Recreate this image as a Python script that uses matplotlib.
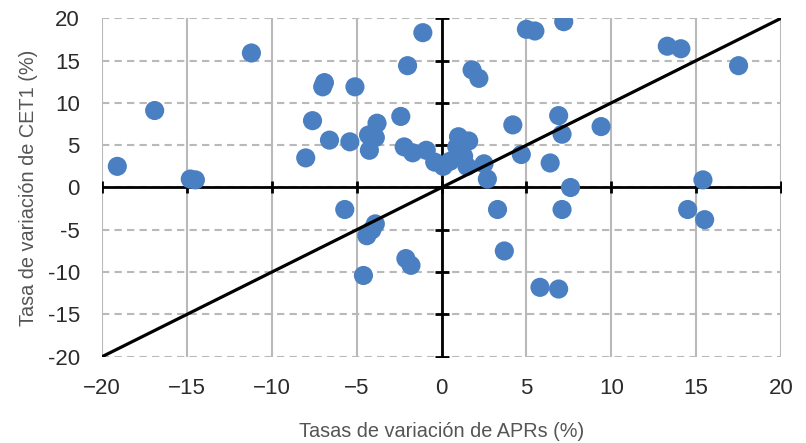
import matplotlib.pyplot as plt
import numpy as np

plt.rcParams['font.family'] = ['Liberation Sans', 'DejaVu Sans']

# tasas de variacion de APRs (%) y de CET1 (%)
apr = [-19.1, -16.9, -14.8, -14.5, -11.2, -8.0, -7.6, -7.0, -6.9, -6.6,
       -5.4, -5.1, -4.3, -3.8, -4.25, -3.9, -2.4, -2.2, -1.7, -2.0,
       -1.1, -0.9, -0.4, 0.1, 0.5, 1.0, 1.6, 0.9, 1.3, 1.5,
       1.8, 2.2, 2.5, 2.7, 4.2, 4.7, 5.0, 5.5, 7.2, 6.9,
       7.1, 6.4, 7.6, 9.4, 13.3, 14.1, 17.5, 15.4, 3.3, 7.1,
       14.5, 15.5, 3.7, 5.8, 6.9, -2.1, -1.8, -5.7, -3.9, -4.1,
       -4.4, -4.6]
cet1 = [2.5, 9.1, 1.0, 0.9, 15.9, 3.5, 7.9, 11.9, 12.4, 5.6,
        5.4, 11.9, 6.2, 7.6, 4.4, 5.9, 8.4, 4.8, 4.1, 14.4,
        18.3, 4.4, 3.0, 2.5, 3.1, 6.0, 5.5, 4.8, 3.7, 2.5,
        13.9, 12.9, 2.8, 1.0, 7.4, 3.9, 18.7, 18.5, 19.6, 8.5,
        6.3, 2.9, 0.0, 7.2, 16.7, 16.4, 14.4, 0.9, -2.6, -2.6,
        -2.6, -3.8, -7.5, -11.8, -12.0, -8.4, -9.2, -2.6, -4.3, -5.0,
        -5.7, -10.4]

ticks = np.arange(-20, 25, 5)
xlabels = [str(t).replace('-', '\u2212') for t in ticks]
ylabels = [str(t) for t in ticks]
gris = '#b9b9b9'

fig = plt.figure(figsize=(8.06, 4.43), dpi=100)
ax = fig.add_axes([0.1266, 0.1948, 0.8424, 0.7639])
ax.set_xlim(-20, 20)
ax.set_ylim(-20, 20)
for s in ax.spines.values():
    s.set_visible(False)

# rejilla: verticales continuas, horizontales discontinuas
for t in ticks:
    ax.axvline(t, color=gris, lw=1.5, zorder=0)
    ax.axhline(t, color=gris, lw=1.5, ls=(0, (3.5, 2.5)), zorder=0)

# ejes en el origen con marcas
ax.axhline(0, color='black', lw=2, zorder=1)
ax.axvline(0, color='black', lw=2, zorder=1)
ax.plot(np.zeros(len(ticks)), ticks, ls='none', marker='_', ms=10, mew=2, color='black', zorder=1)
ax.plot(ticks, np.zeros(len(ticks)), ls='none', marker='|', ms=8, mew=2, color='black', zorder=1)

ax.scatter(apr, cet1, s=190, color='#4a80c2', edgecolors='none', zorder=3)
ax.plot([-20, 20], [-20, 20], color='black', lw=2.3, zorder=4)

ax.set_xticks(ticks, xlabels)
ax.set_yticks(ticks, ylabels)
ax.tick_params(length=0, labelsize=16, labelcolor='#2b2b2b')
ax.tick_params(axis='x', pad=15)
ax.tick_params(axis='y', pad=16)
ax.set_xlabel('Tasas de variación de APRs (%)', fontsize=14.3, color='#555555')
ax.set_ylabel('Tasa de variación de CET1 (%)', fontsize=14.3, color='#555555')
ax.xaxis.set_label_coords(0.5, -0.192)
ax.yaxis.set_label_coords(-0.095, 0.5)

fig.savefig('out.png', dpi=100)
